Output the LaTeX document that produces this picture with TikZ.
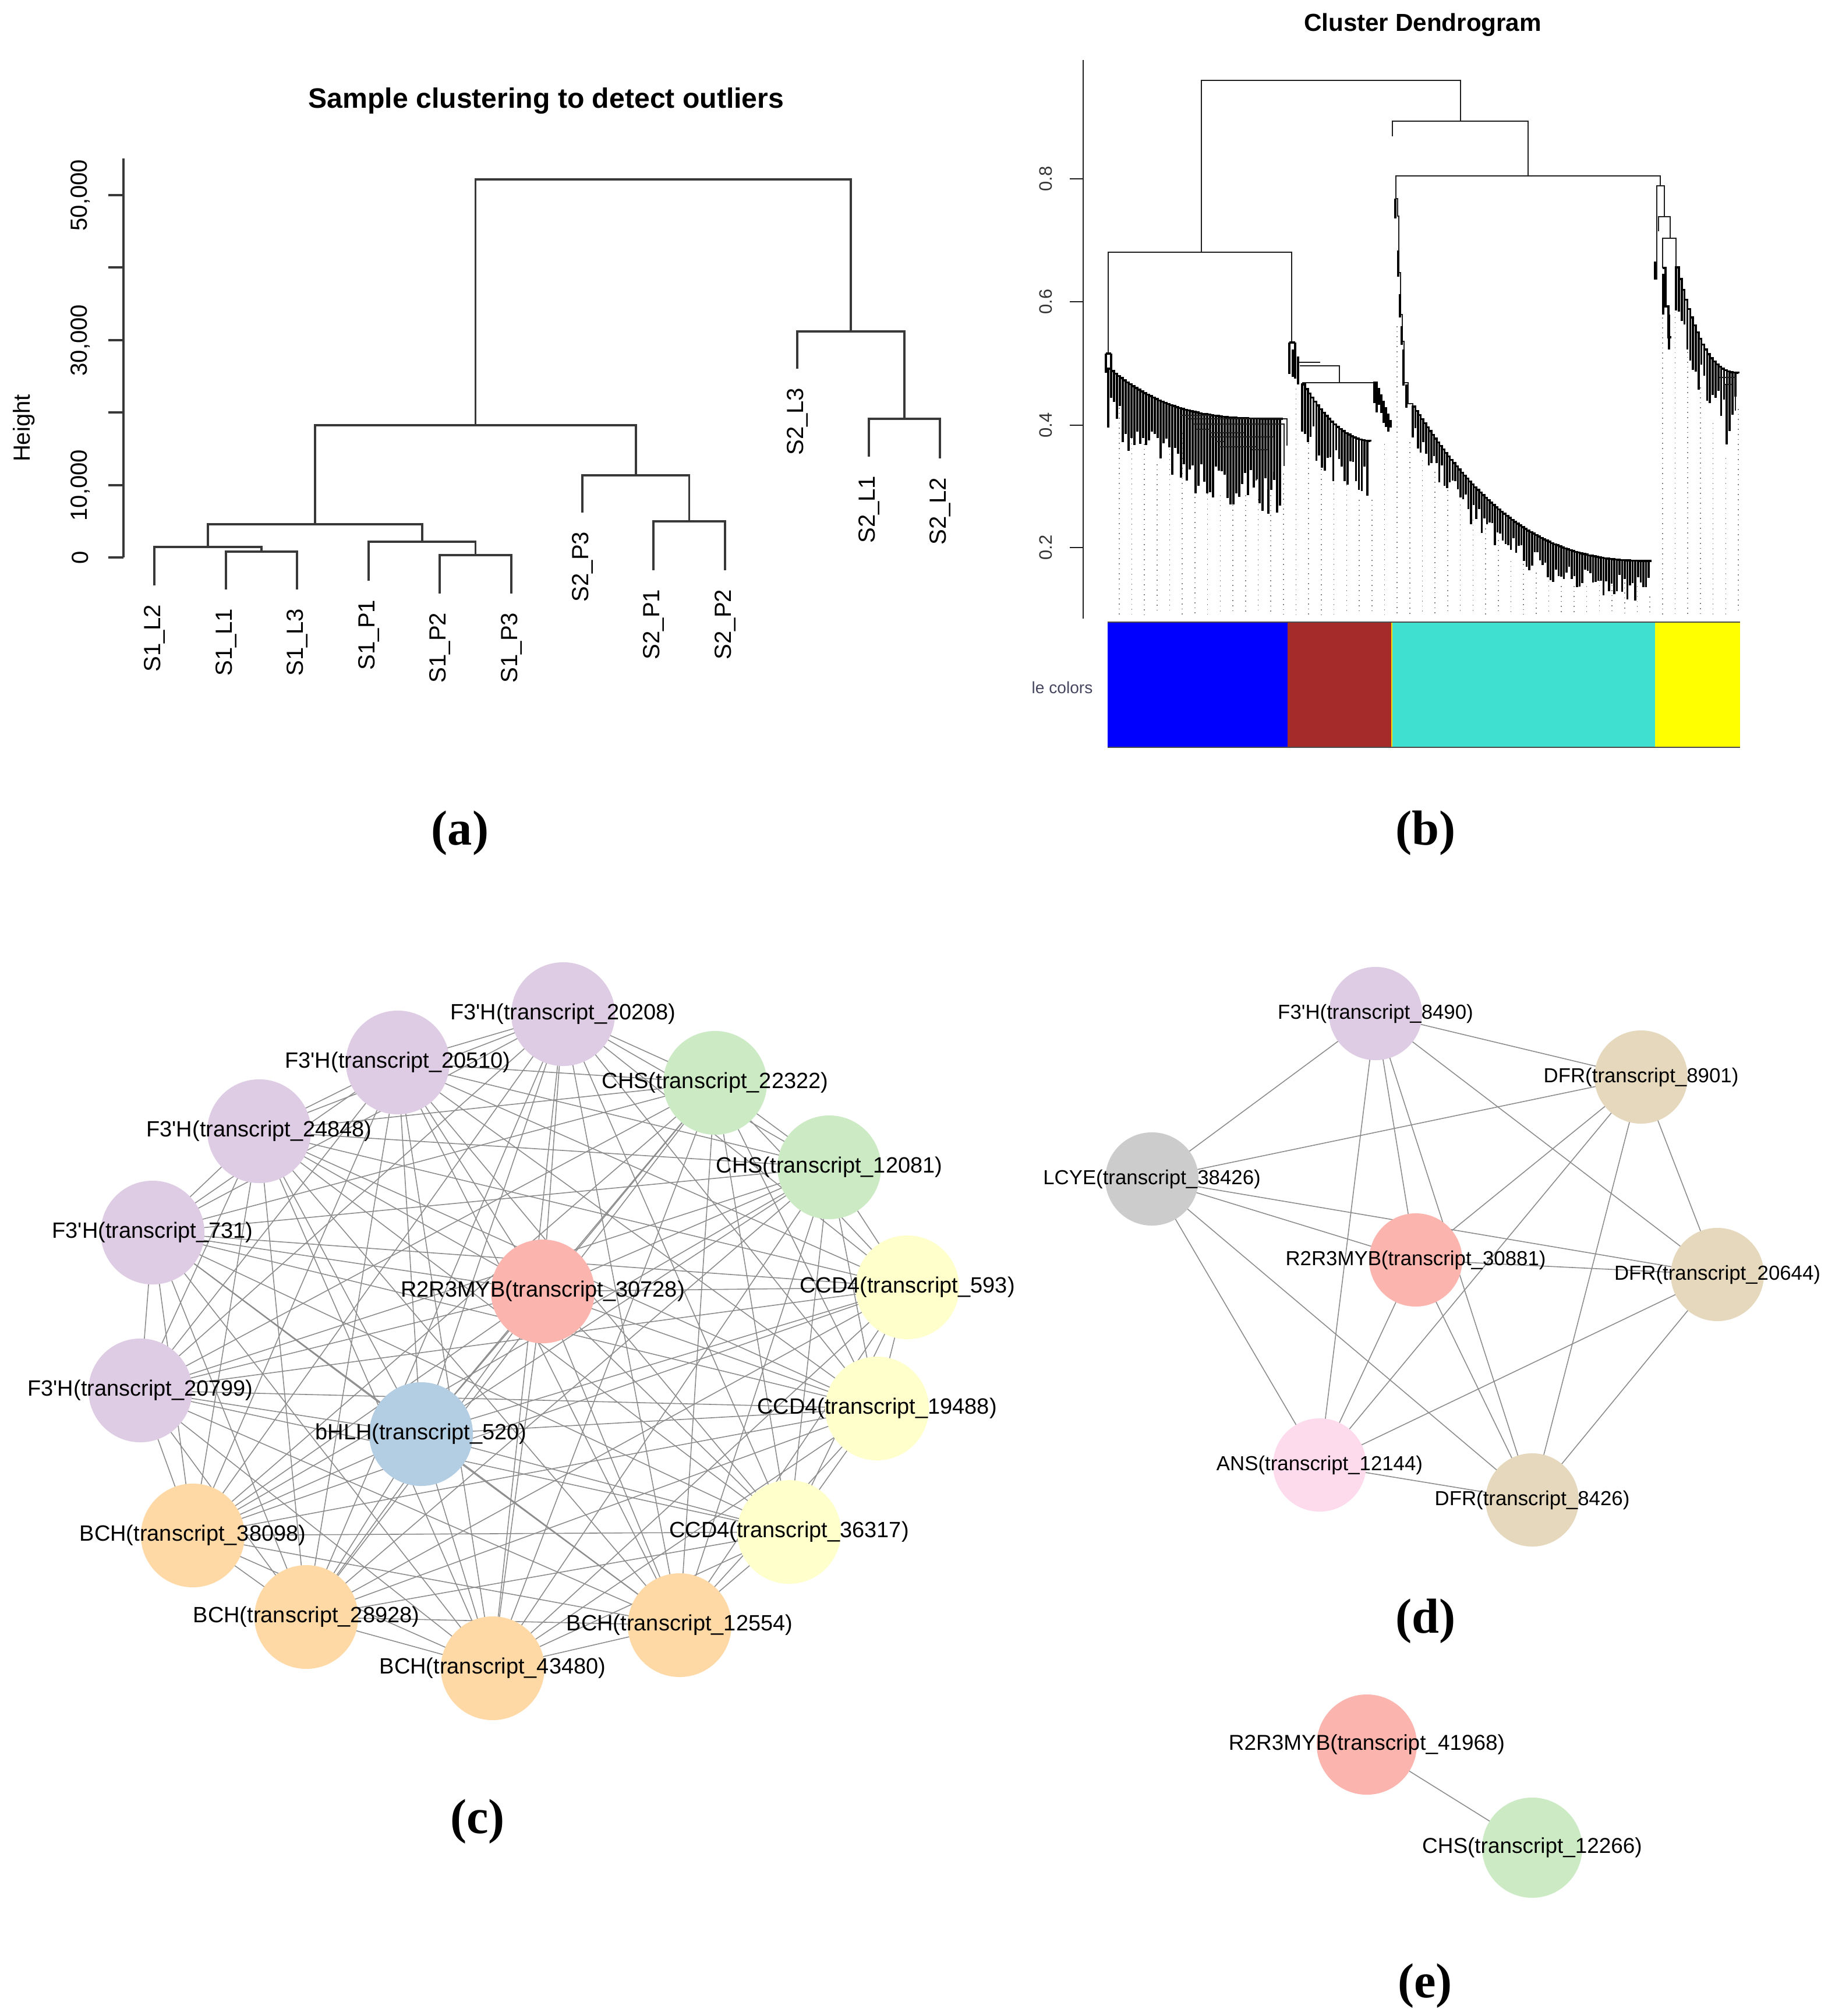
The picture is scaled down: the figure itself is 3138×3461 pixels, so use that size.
\documentclass[tikz,border=0pt]{standalone}
\usepackage{fontspec}
\setmainfont{Liberation Sans}
\newfontfamily\capserif{Liberation Serif}
\usetikzlibrary{positioning,backgrounds}

\definecolor{lilac}{RGB}{222,203,228}
\definecolor{mint}{RGB}{204,235,197}
\definecolor{cream}{RGB}{255,255,204}
\definecolor{peach}{RGB}{254,217,166}
\definecolor{salmon}{RGB}{251,180,174}
\definecolor{skyblue}{RGB}{179,205,227}
\definecolor{tan}{RGB}{229,216,189}
\definecolor{silver}{RGB}{204,204,204}
\definecolor{blush}{RGB}{253,218,236}
\definecolor{modblue}{RGB}{0,0,255}
\definecolor{modbrown}{RGB}{165,42,42}
\definecolor{modturq}{RGB}{64,224,208}
\definecolor{modyellow}{RGB}{255,255,0}
\definecolor{modtext}{RGB}{70,70,95}
\newcommand\ap{\textquotesingle}

\begin{document}
\begin{tikzpicture}[
    x=0.01cm, y=-0.01cm,
    tree/.style={line width=0.9pt, black!78},
    twig/.style={line width=0.75pt, black!88},
    stem/.style={line width=1pt, black},
    guide/.style={dotted, line width=0.45pt, black!50},
    vlab/.style={rotate=90, inner sep=0pt, font=\fontsize{11.4}{13}\selectfont},
    blab/.style={rotate=90, inner sep=0pt, font=\fontsize{8.8}{10}\selectfont, black!80},
    head/.style={inner sep=0pt, font=\bfseries\fontsize{13.7}{16}\selectfont},
    gene/.style={circle, draw=none, inner sep=0pt, minimum size=1.78cm},
    edge/.style={draw=black!45, line width=0.45pt},
    every label/.style={inner sep=0pt, font=\fontsize{10.8}{12}\selectfont},
    dlab/.style={font=\fontsize{9.9}{11}\selectfont},
    elab/.style={font=\fontsize{10.5}{12}\selectfont},
    panel/.style={inner sep=0pt, font=\capserif\bfseries\fontsize{24}{28}\selectfont}
    ]
    \begin{scope}[on background layer]
      \fill[white] (0,0) rectangle (3138,3461);
    \end{scope}
    \pgfmathsetseed{7}

    % (a) sample clustering
    \node[head] (titleA) at (938,173) {Sample clustering to detect outliers};
    \node[vlab] (ylabA) at (41,735) {Height};
    \draw[tree] (212,272) -- (212,957);
    \foreach \y in {335,459,584,708,833,957}
      \draw[tree] (186,\y) -- (212,\y);
    \foreach \y/\t [count=\n] in {335/{50,000},584/{30,000},833/{10,000},957/0}
      \node[vlab] (tickA\n) at (138,\y) {\t};
    \foreach \x/\y/\t [count=\n] in {265/1005/S1\_L2, 388/1012/S1\_L1, 510/1012/S1\_L3,
        633/997/S1\_P1, 755/1019/S1\_P2, 878/1019/S1\_P3, 1000/880/S2\_P3,
        1122/979/S2\_P1, 1245/979/S2\_P2, 1369/633/S2\_L3, 1492/784/S2\_L1, 1614/787/S2\_L2}
      \node[vlab, anchor=east] (leaf\n) at (\x,\y+32) {\t};
    \draw[tree] (388,1012) -- (388,947) -- (510,947) -- (510,1012);
    \draw[tree] (265,1005) -- (265,939) -- (449,939) -- (449,947);
    \draw[tree] (755,1019) -- (755,953) -- (878,953) -- (878,1019);
    \draw[tree] (633,997) -- (633,930) -- (816.5,930) -- (816.5,953);
    \draw[tree] (357,939) -- (357,900) -- (725,900) -- (725,930);
    \draw[tree] (1122,979) -- (1122,895) -- (1245,895) -- (1245,979);
    \draw[tree] (1000,880) -- (1000,816) -- (1183.5,816) -- (1183.5,895);
    \draw[tree] (541,900) -- (541,730) -- (1092,730) -- (1092,816);
    \draw[tree] (1492,784) -- (1492,719) -- (1614,719) -- (1614,787);
    \draw[tree] (1369,633) -- (1369,569) -- (1553,569) -- (1553,719);
    \draw[tree] (816.5,730) -- (816.5,308) -- (1461,308) -- (1461,569);
    \node[panel] (capA) at (790,1430) {(a)};

    % (b) cluster dendrogram
    \node[head, font=\bfseries\fontsize{12}{14}\selectfont] (titleB) at (2443,43) {Cluster Dendrogram};
    \draw[twig] (1860,103) -- (1860,1062);
    \foreach \y/\t [count=\n] in {307/0.8,518/0.6,730/0.4,940/0.2}{
      \draw[twig] (1837,\y) -- (1860,\y);
      \node[blab] (tickB\n) at (1796,\y) {\t};
    }
    \foreach \t [count=\k from 0] in {700,718,762,797,745,743,793,813,850,858,850,857,850,813,
        667,743,762,813,832,858,858,762,
        560,759,790,810,841,866,892,907,927,963,968,983,988,1006,1006,1006,996,996,1000,1006,1024,
        545,510,604,665,726,786,702}
      \draw[guide] ({1921.7+21.7*\k},\t) -- ({1921.7+21.7*\k},1055);
    \draw[twig] (2063,433) -- (2063,138) -- (2508,138) -- (2508,208);
    \draw[twig] (1903,607) -- (1903,433) -- (2218,433) -- (2218,588);
    \draw[twig] (2391,234) -- (2391,208) -- (2624,208) -- (2624,302);
    \draw[twig] (2397,341) -- (2397,302) -- (2851,302) -- (2851,319);
    % blue
    \draw[stem] (1899,607) -- (1908,607);
    \draw[stem] (1899,607) -- (1899,640);
    \draw[stem] (1908,607) -- (1908,633) -- (1903,633);
    \foreach \i in {0,...,59}{
      \pgfmathsetmacro\xa{1903+5*\i}
      \pgfmathsetmacro\ta{1-\i/60}
      \pgfmathsetmacro\tb{1-(\i+1)/60}
      \pgfmathsetmacro\ya{633+86*(1-\ta*\ta*\ta)}
      \pgfmathsetmacro\yb{633+86*(1-\tb*\tb*\tb)}
      \pgfmathsetmacro\yc{\ya+35+60*\i/60+75*rnd}
      \draw[stem] (\xa,\yc) -- (\xa,\ya) -- ({\xa+5},\ya) -- ({\xa+5},\yb);
    }
    \draw[twig] (2027,713) -- (2080,713);
    \draw[twig] (2037,719) -- (2210,719) -- (2210,765);
    \draw[twig] (2047,728) -- (2205,728) -- (2205,800);
    \draw[twig] (2053,737) -- (2080,737);
    \draw[twig] (2077,743) -- (2137,743);
    \draw[twig] (2078,750) -- (2187,750) -- (2187,810);
    \draw[twig] (2087,758) -- (2102,758);
    \draw[twig] (2093,767) -- (2157,767) -- (2157,825);
    \draw[twig] (2150,772) -- (2177,772) -- (2177,840);
    % brown
    \draw[stem] (2214,588) -- (2224,588);
    \draw[stem] (2214,588) -- (2214,642);
    \draw[stem] (2224,588) -- (2224,650);
    \draw[stem] (2220,600) -- (2220,647);
    \draw[twig] (2227,622) -- (2267,622);
    \draw[twig] (2232,628) -- (2300,628) -- (2300,657);
    \draw[stem] (2229,612) -- (2229,660);
    \draw[twig] (2236,657) -- (2360,657);
    \foreach \i in {0,...,23}{
      \pgfmathsetmacro\xa{2236+4.87*\i}
      \pgfmathsetmacro\ta{1-\i/24}
      \pgfmathsetmacro\tb{1-(\i+1)/24}
      \pgfmathsetmacro\ya{660+97*(1-\ta*\ta)}
      \pgfmathsetmacro\yb{660+97*(1-\tb*\tb)}
      \pgfmathsetmacro\yc{\ya+40+60*rnd}
      \draw[stem] (\xa,\yc) -- (\xa,\ya) -- ({\xa+4.87},\ya) -- ({\xa+4.87},\yb);
    }
    \foreach \i in {0,...,6}{
      \pgfmathsetmacro\xa{2360+4*\i}
      \pgfmathsetmacro\ya{657+11*\i}
      \pgfmathsetmacro\yc{\ya+15+25*rnd}
      \draw[stem] (\xa,\yc) -- (\xa,\ya) -- ({\xa+4},\ya) -- ({\xa+4},{\ya+11});
    }
    % turquoise
    \draw[twig] (2397,341) -- (2400,341) -- (2400,371) -- (2402,371) -- (2402,468)
      -- (2405,468) -- (2405,540) -- (2408,540) -- (2408,586) -- (2411,586)
      -- (2411,657) -- (2418,657) -- (2418,693) -- (2426,693) -- (2426,698);
    \draw[stem] (2396,341) -- (2396,375);
    \draw[stem] (2401,430) -- (2401,475);
    \draw[stem] (2404,505) -- (2404,545);
    \draw[stem] (2407,560) -- (2407,592);
    \draw[stem] (2410,600) -- (2410,662);
    \draw[stem] (2415,660) -- (2415,700);
    \foreach \i in {0,...,89}{
      \pgfmathsetmacro\xa{2426+4.55*\i}
      \pgfmathsetmacro\ta{1-\i/90}
      \pgfmathsetmacro\tb{max(1-(\i+1)/90,0.0001)}
      \pgfmathsetmacro\ya{698+265*(1-\ta*\ta*sqrt(\ta))}
      \pgfmathsetmacro\yb{698+265*(1-\tb*\tb*sqrt(\tb))}
      \pgfmathsetmacro\yc{\ya+25+45*rnd}
      \draw[stem] (\xa,\yc) -- (\xa,\ya) -- ({\xa+4.55},\ya) -- ({\xa+4.55},\yb);
    }
    % yellow
    \draw[twig] (2845,480) -- (2845,319) -- (2858,319) -- (2858,372);
    \draw[twig] (2848,397) -- (2848,372) -- (2868,372) -- (2868,409);
    \draw[twig] (2855,460) -- (2855,409) -- (2878,409) -- (2878,459);
    \draw[stem] (2842,449) -- (2842,480);
    \draw[stem] (2855,460) -- (2860,460) -- (2860,526) -- (2865,526) -- (2865,579) -- (2870,579);
    \draw[stem] (2856,470) -- (2856,540);
    \draw[stem] (2866,540) -- (2866,600);
    \foreach \i in {0,...,21}{
      \pgfmathsetmacro\xa{2878+4.85*\i}
      \pgfmathsetmacro\ta{1-\i/22}
      \pgfmathsetmacro\tb{max(1-(\i+1)/22,0.0001)}
      \pgfmathsetmacro\ya{459+181*(1-\ta*\ta*sqrt(\ta))}
      \pgfmathsetmacro\yb{459+181*(1-\tb*\tb*sqrt(\tb))}
      \pgfmathsetmacro\yc{\ya+30+60*rnd}
      \draw[stem] (\xa,\yc) -- (\xa,\ya) -- ({\xa+4.85},\ya) -- ({\xa+4.85},\yb);
    }
    \draw[twig] (2953,648) -- (2980,648) -- (2980,705);
    \draw[twig] (2960,660) -- (2975,660);
    \draw[stem] (2965,660) -- (2965,763);
    \draw[stem] (2970,670) -- (2970,740);
    % module colours
    \fill[modblue] (1902,1068) rectangle (2211,1283);
    \fill[modbrown] (2211,1068) rectangle (2390,1283);
    \fill[modturq] (2390,1068) rectangle (2842,1283);
    \fill[modyellow] (2842,1068) rectangle (2988,1283);
    \draw[modyellow!70!orange, line width=0.6pt] (2390,1068) -- (2390,1283);
    \draw[black!70, line width=0.6pt] (1902,1068) -- (2988,1068);
    \draw[black!70, line width=0.6pt] (1902,1283) -- (2988,1283);
    \node[inner sep=0pt, font=\fontsize{8}{10}\selectfont, modtext] (modlab) at (1824,1180) {le colors};
    \node[panel] (capB) at (2448,1430) {(b)};

    % (c) network
    \foreach \n/\p/\c/\t in {
        c1/{967,1741}/lilac/{F3\ap H(transcript\_20208)},
        c2/{683,1824}/lilac/{F3\ap H(transcript\_20510)},
        c3/{445,1942}/lilac/{F3\ap H(transcript\_24848)},
        c4/{262,2116}/lilac/{F3\ap H(transcript\_731)},
        c5/{241,2387}/lilac/{F3\ap H(transcript\_20799)},
        c6/{331,2636}/peach/{BCH(transcript\_38098)},
        c7/{526,2776}/peach/{BCH(transcript\_28928)},
        c8/{846,2864}/peach/{BCH(transcript\_43480)},
        c9/{1167,2790}/peach/{BCH(transcript\_12554)},
        c10/{1355,2630}/cream/{CCD4(transcript\_36317)},
        c11/{1506,2418}/cream/{CCD4(transcript\_19488)},
        c12/{1558,2210}/cream/{CCD4(transcript\_593)},
        c13/{1424,2004}/mint/{CHS(transcript\_12081)},
        c14/{1228,1859}/mint/{CHS(transcript\_22322)},
        c15/{932,2217}/salmon/{R2R3MYB(transcript\_30728)},
        c16/{723,2462}/skyblue/{bHLH(transcript\_520)}}
      \node[gene, fill=\c, label={center:\t}] (\n) at (\p) {};
    \begin{scope}[on background layer]
      \foreach \i in {1,...,15}{
        \pgfmathtruncatemacro\k{\i+1}
        \foreach \j in {\k,...,16}
          \draw[edge] (c\i.center) -- (c\j.center);
      }
    \end{scope}
    \node[panel] (capC) at (820,3127) {(c)};

    % (d) network
    \foreach \n/\p/\c/\t in {
        d1/{2362,1740}/lilac/{F3\ap H(transcript\_8490)},
        d2/{2818,1849}/tan/{DFR(transcript\_8901)},
        d3/{1978,2024}/silver/{LCYE(transcript\_38426)},
        d4/{2431,2163}/salmon/{R2R3MYB(transcript\_30881)},
        d5/{2949,2188}/tan/{DFR(transcript\_20644)},
        d6/{2266,2515}/blush/{ANS(transcript\_12144)},
        d7/{2631,2575}/tan/{DFR(transcript\_8426)}}
      \node[gene, minimum size=1.6cm, fill=\c, label={[dlab]center:\t}] (\n) at (\p) {};
    \begin{scope}[on background layer]
      \foreach \i in {1,...,6}{
        \pgfmathtruncatemacro\k{\i+1}
        \foreach \j in {\k,...,7}
          \draw[edge] (d\i.center) -- (d\j.center);
      }
    \end{scope}
    \node[panel] (capD) at (2448,2783) {(d)};

    % (e) network
    \node[gene, minimum size=1.72cm, fill=salmon, label={[elab]center:R2R3MYB(transcript\_41968)}] (e1) at (2347,2995) {};
    \node[gene, minimum size=1.72cm, fill=mint, label={[elab]center:CHS(transcript\_12266)}] (e2) at (2631,3172) {};
    \begin{scope}[on background layer]
      \draw[edge] (e1.center) -- (e2.center);
    \end{scope}
    \node[panel] (capE) at (2447,3409) {(e)};
\end{tikzpicture}
\end{document}
